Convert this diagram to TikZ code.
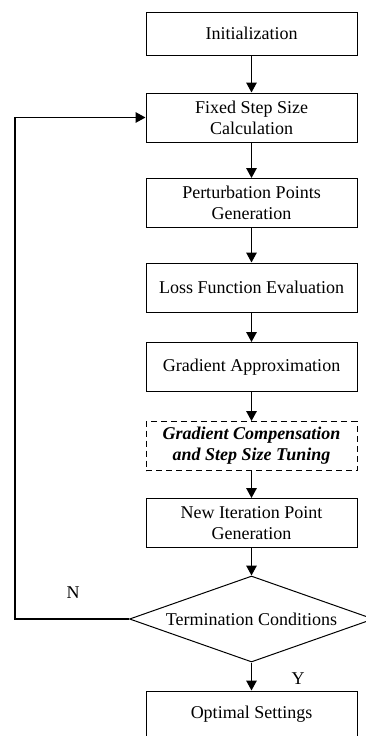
\documentclass[tikz,border=0pt]{standalone}
\usepackage{fontspec}
\setmainfont{Liberation Serif}
\usetikzlibrary{arrows.meta,shapes.geometric}

\tikzset{
  stepbox/.style={draw, line width=1pt, minimum width=211, minimum height=49, align=center, inner sep=0pt,
    font=\fontsize{18}{21}\selectfont},
  tunebox/.style={stepbox, dash pattern=on 6pt off 4pt, font=\fontsize{18}{21}\selectfont\bfseries\itshape},
  testbox/.style={draw, line width=1pt, shape=diamond, aspect=2.8, minimum width=244, minimum height=86, inner sep=0pt,
    font=\fontsize{18}{21}\selectfont},
  flow/.style={line width=1.5pt, -{Triangle[length=10pt,width=10.5pt]}}
}

\begin{document}
\begin{tikzpicture}[x=1pt,y=-1pt]
\useasboundingbox (0,0) rectangle (365,736);
% main column
\node[stepbox, minimum height=43] (init) at (251.5,33.5) {Initialization};
\node[stepbox] (fixed) at (251.5,117.5) {Fixed Step Size\\Calculation};
\node[stepbox] (perturb) at (251.5,203) {Perturbation Points\\Generation};
\node[stepbox] (loss) at (251.5,287.5) {Loss Function Evaluation};
\node[stepbox] (grad) at (251.5,367) {Gradient Approximation};
\node[tunebox] (tune) at (251.5,446) {Gradient Compensation\\and Step Size Tuning};
\node[stepbox] (newpt) at (251.5,523) {New Iteration Point\\Generation};
\node[testbox] (term) at (251.5,619) {Termination Conditions};
\node[stepbox, minimum height=46] (optim) at (251.5,714) {Optimal Settings};
\coordinate (loop) at (15,619);
% arrows
\draw[flow] (init) -- (fixed);
\draw[flow] (fixed) -- (perturb);
\draw[flow] (perturb) -- (loss);
\draw[flow] (loss) -- (grad);
\draw[flow] (grad) -- (tune);
\draw[flow] (tune) -- (newpt);
\draw[flow] (newpt) -- (term);
\draw[flow] (term) -- node[right, xshift=36pt, yshift=-2pt, font=\fontsize{18}{21}\selectfont] (yes) {Y} (optim);
\draw[flow] (term.west) -- (loop) |- (fixed.west);
\node[font=\fontsize{18}{21}\selectfont] (no) at (73,593) {N};
\end{tikzpicture}
\end{document}
